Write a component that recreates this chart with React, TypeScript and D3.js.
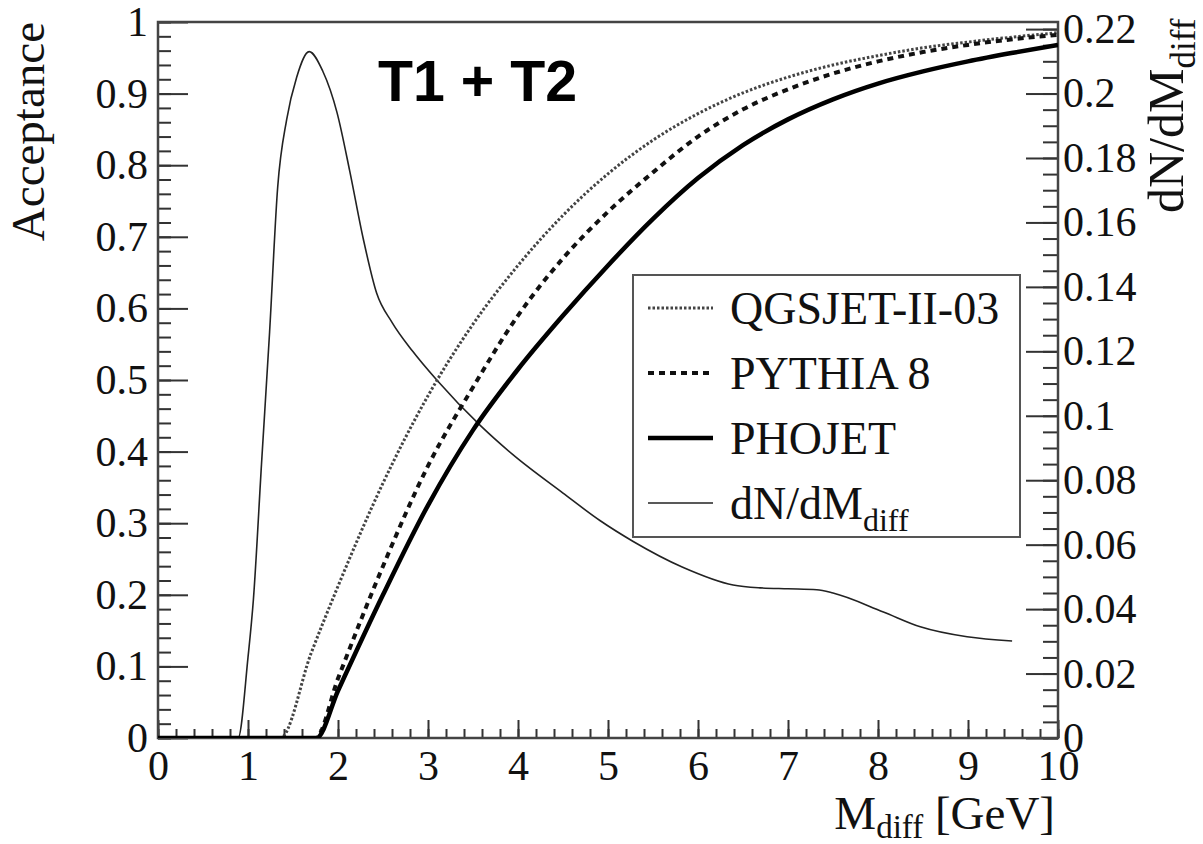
import React, { useEffect, useRef } from "react";
import * as d3 from "d3";

// Acceptance curves (mass in GeV)
const massQgsjet = [0, 1.36, 1.7, 2.0, 2.5, 3.0, 3.5, 4.0, 4.5, 5.0, 5.5, 6.0, 6.5, 7.0, 7.5, 8.0, 8.5, 9.0, 9.5, 10];
const accQgsjet = [0, 0, 0.118, 0.212, 0.356, 0.478, 0.578, 0.66, 0.73, 0.788, 0.835, 0.872, 0.901, 0.923, 0.94, 0.953, 0.964, 0.972, 0.979, 0.985];

const massPythia = [0, 1.75, 2.0, 2.5, 3.0, 3.5, 4.0, 4.5, 5.0, 5.5, 6.0, 6.5, 7.0, 7.5, 8.0, 8.5, 9.0, 9.5, 10];
const accPythia = [0, 0, 0.083, 0.24, 0.38, 0.49, 0.59, 0.67, 0.735, 0.79, 0.84, 0.878, 0.906, 0.928, 0.945, 0.958, 0.968, 0.976, 0.982];

const massPhojet = [0, 1.76, 2.0, 2.5, 3.0, 3.5, 4.0, 4.5, 5.0, 5.5, 6.0, 6.5, 7.0, 7.5, 8.0, 8.5, 9.0, 9.5, 10];
const accPhojet = [0, 0, 0.066, 0.2, 0.325, 0.43, 0.515, 0.59, 0.66, 0.725, 0.782, 0.828, 0.864, 0.892, 0.914, 0.931, 0.945, 0.957, 0.968];

// dN/dM_diff distribution (right axis)
const massDn = [0, 0.89, 1.0, 1.06, 1.15, 1.24, 1.33, 1.43, 1.54, 1.68, 1.83, 1.99, 2.13, 2.28, 2.43, 2.6, 2.83, 3.1, 3.58, 3.94, 4.5, 4.91, 5.28, 5.83, 6.39, 6.69, 7.0, 7.32, 7.5, 8.06, 8.47, 8.99, 9.49];
const valDn = [0, 0, 0.025, 0.043, 0.085, 0.126, 0.171, 0.192, 0.205, 0.213, 0.207, 0.194, 0.176, 0.155, 0.138, 0.129, 0.12, 0.111, 0.097, 0.088, 0.076, 0.0675, 0.061, 0.053, 0.0475, 0.0466, 0.0463, 0.046, 0.045, 0.0391, 0.0345, 0.0314, 0.0301];

const xTicks = [0, 1, 2, 3, 4, 5, 6, 7, 8, 9, 10];
const leftTicks = [0, 0.1, 0.2, 0.3, 0.4, 0.5, 0.6, 0.7, 0.8, 0.9, 1];
const rightTicks = [0, 0.02, 0.04, 0.06, 0.08, 0.1, 0.12, 0.14, 0.16, 0.18, 0.2, 0.22];

const legendLabels = ["QGSJET-II-03", "PYTHIA 8", "PHOJET", "dN/dM"];

const W = 1203;
const H = 844;
const SERIF = "'Liberation Serif', 'Times New Roman', serif";

const Chart = () => {
  const ref = useRef(null);

  useEffect(() => {
    d3.select(ref.current).selectAll("*").remove();

    const svg = d3
      .select(ref.current)
      .append("svg")
      .attr("width", W)
      .attr("height", H)
      .style("position", "absolute")
      .style("left", "0px")
      .style("top", "0px")
      .style("background", "#fff");

    const x0 = 158, x1 = 1058, y0 = 738, y1 = 22;

    const x = d3.scaleLinear().domain([0, 10]).range([x0, x1]);
    const yL = d3.scaleLinear().domain([0, 1]).range([y0, y1]);
    const yR = d3.scaleLinear().domain([0, 0.2222]).range([y0, y1]);

    // ticks
    const tickColor = "#333";
    const fmt = (d) => String(+d.toFixed(2));

    const minorX = d3.range(0, 10.001, 0.2);
    const minorL = d3.range(0, 1.001, 0.02);
    const minorR = d3.range(0, 0.2222, 0.005);

    const gx = svg.append("g").attr("transform", `translate(0,${y0})`);
    gx.call(d3.axisBottom(x).tickValues(minorX).tickSize(-9).tickFormat(() => ""));
    gx.append("g").call(d3.axisBottom(x).tickValues(xTicks).tickSize(-18).tickPadding(12).tickFormat(fmt));

    const gl = svg.append("g").attr("transform", `translate(${x0},0)`);
    gl.call(d3.axisLeft(yL).tickValues(minorL).tickSize(-13).tickFormat(() => ""));
    gl.append("g").call(d3.axisLeft(yL).tickValues(leftTicks).tickSize(-30).tickPadding(10).tickFormat(fmt));

    const gr = svg.append("g").attr("transform", `translate(${x1},0)`);
    gr.call(d3.axisRight(yR).tickValues(minorR).tickSize(-15).tickFormat(() => ""));
    gr.append("g").call(d3.axisRight(yR).tickValues(rightTicks).tickSize(-32).tickPadding(5).tickFormat(fmt));

    svg.selectAll(".domain").remove();
    svg.selectAll(".tick line").attr("stroke", tickColor).attr("stroke-width", 2);
    svg
      .selectAll(".tick text")
      .style("font-family", SERIF)
      .style("font-size", "42px")
      .attr("fill", "#111");

    // frame
    svg
      .append("rect")
      .attr("x", x0)
      .attr("y", y1)
      .attr("width", x1 - x0)
      .attr("height", y0 - y1)
      .attr("fill", "none")
      .attr("stroke", "#444")
      .attr("stroke-width", 2.5);

    // clip
    svg
      .append("clipPath")
      .attr("id", "plot-clip")
      .append("rect")
      .attr("x", x0)
      .attr("y", y1)
      .attr("width", x1 - x0)
      .attr("height", y0 - y1);

    const plot = svg.append("g").attr("clip-path", "url(#plot-clip)");

    const lineL = d3
      .line()
      .x((d) => x(d[0]))
      .y((d) => yL(d[1]))
      .curve(d3.curveMonotoneX);
    const lineR = d3
      .line()
      .x((d) => x(d[0]))
      .y((d) => yR(d[1]))
      .curve(d3.curveMonotoneX);

    const styles = [
      { color: "#444", width: 3, dash: "2.5,2" },
      { color: "#111", width: 4, dash: "6,5" },
      { color: "#000", width: 4.5, dash: null },
      { color: "#222", width: 1.6, dash: null },
    ];

    plot
      .append("path")
      .attr("d", lineR(massDn.map((m, i) => [m, valDn[i]])))
      .attr("fill", "none")
      .attr("stroke", styles[3].color)
      .attr("stroke-width", styles[3].width);

    const accSeries = [
      [massQgsjet, accQgsjet],
      [massPythia, accPythia],
      [massPhojet, accPhojet],
    ];
    accSeries.forEach(([ms, vs], k) => {
      plot
        .append("path")
        .attr("d", lineL(ms.map((m, i) => [m, vs[i]])))
        .attr("fill", "none")
        .attr("stroke", styles[k].color)
        .attr("stroke-width", styles[k].width)
        .attr("stroke-dasharray", styles[k].dash);
    });

    // legend
    const lg = svg.append("g");
    lg.append("rect")
      .attr("x", 633)
      .attr("y", 275)
      .attr("width", 387)
      .attr("height", 262)
      .attr("fill", "#fff")
      .attr("stroke", "#555")
      .attr("stroke-width", 2);

    legendLabels.forEach((label, i) => {
      const cy = 308 + i * 65;
      lg.append("line")
        .attr("x1", 648)
        .attr("x2", 713)
        .attr("y1", cy)
        .attr("y2", cy)
        .attr("stroke", styles[i].color)
        .attr("stroke-width", styles[i].width)
        .attr("stroke-dasharray", styles[i].dash);
      const t = lg
        .append("text")
        .attr("x", 730)
        .attr("y", cy + 16)
        .style("font-family", SERIF)
        .style("font-size", "46px")
        .attr("fill", "#111")
        .text(label);
      if (i === 3) {
        t.append("tspan").style("font-size", "32px").attr("dy", 12).text("diff");
      }
    });

    // title
    svg
      .append("text")
      .attr("x", 378)
      .attr("y", 101)
      .style("font-family", "'Liberation Sans', Arial, sans-serif")
      .style("font-weight", "bold")
      .style("font-size", "58px")
      .attr("textLength", 199)
      .attr("lengthAdjust", "spacingAndGlyphs")
      .attr("fill", "#000")
      .text("T1 + T2");

    // axis titles
    svg
      .append("text")
      .attr("transform", `translate(44,22) rotate(-90)`)
      .attr("text-anchor", "end")
      .style("font-family", SERIF)
      .style("font-size", "47px")
      .attr("fill", "#111")
      .text("Acceptance");

    const xt = svg
      .append("text")
      .attr("x", 1055)
      .attr("y", 829)
      .attr("text-anchor", "end")
      .style("font-family", SERIF)
      .style("font-size", "47px")
      .attr("fill", "#111")
      .text("M");
    xt.append("tspan").style("font-size", "33px").attr("dy", 9).text("diff");
    xt.append("tspan").attr("dy", -9).text(" [GeV]");

    const yt = svg
      .append("text")
      .attr("transform", `translate(1183,213) rotate(-90)`)
      .style("font-family", SERIF)
      .style("font-size", "50px")
      .attr("fill", "#111")
      .text("dN/dM");
    yt.append("tspan").style("font-size", "35px").attr("dy", 12).text("diff");
  }, []);

  return <div ref={ref}></div>;
};

export default function App() {
  return <Chart />;
}
